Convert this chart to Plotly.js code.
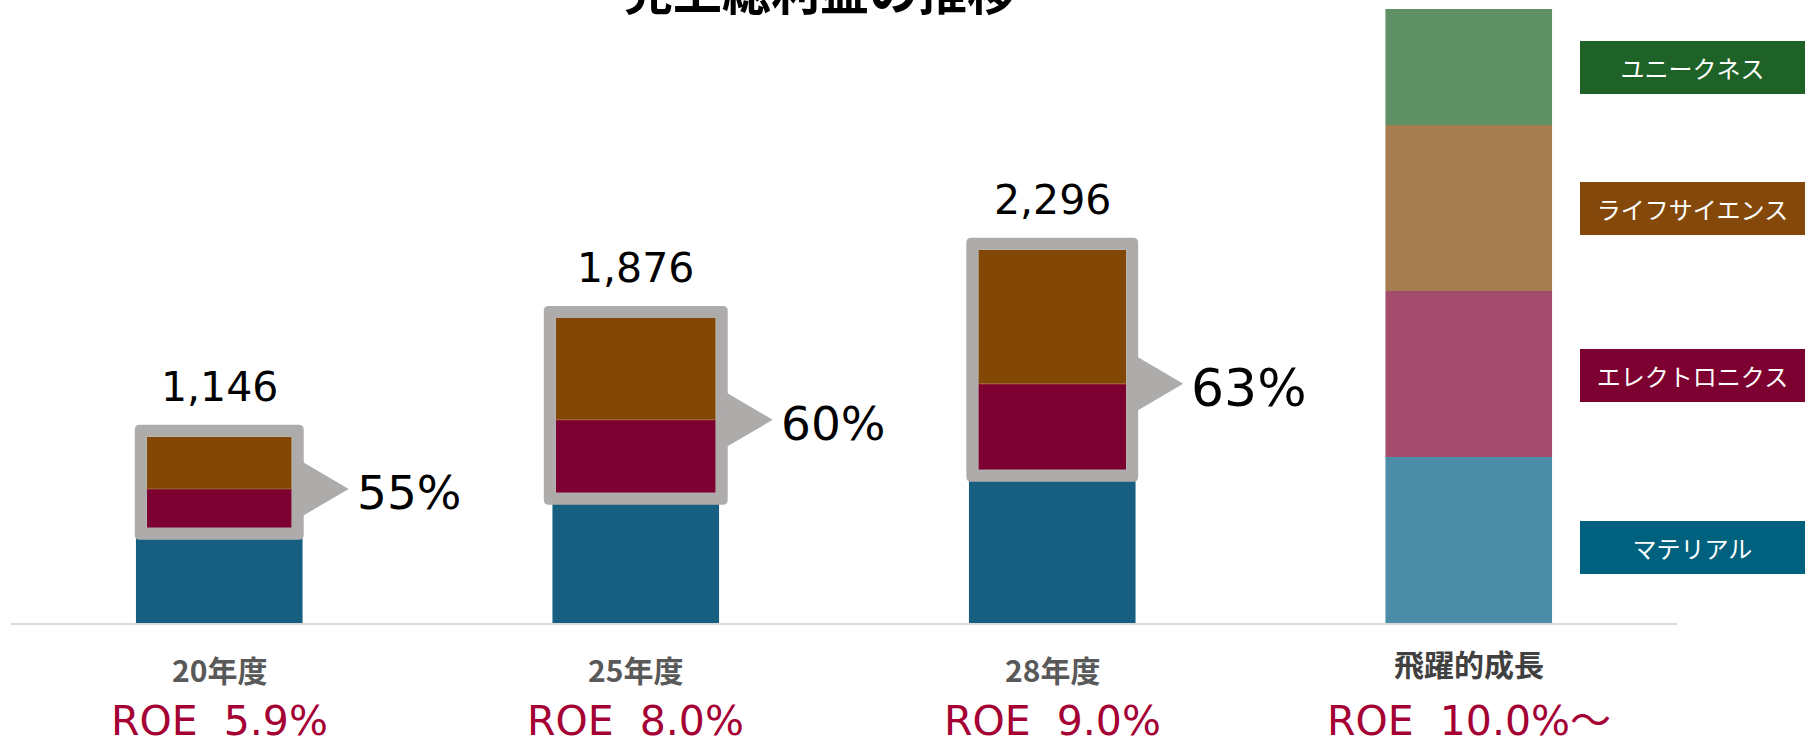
<!DOCTYPE html>
<html>
<head>
<meta charset="utf-8">
<script src="https://cdn.plot.ly/plotly-3.0.1.min.js"></script>
<style>html,body{margin:0;padding:0;background:#fff;}#chart{width:1805px;height:740px;}</style>
</head>
<body>
<div id="chart"></div>
<script>
// ---- data ----
const categories = ['20年度', '25年度', '28年度', '飛躍的成長'];
const roeLabels = ['ROE\u00a0\u00a05.9%', 'ROE\u00a0\u00a08.0%', 'ROE\u00a0\u00a09.0%', 'ROE\u00a0\u00a010.0%～'];
const seriesNames = ['マテリアル', 'エレクトロニクス', 'ライフサイエンス', 'ユニークネス'];
const material = [586, 801, 942, 1021];
const electronics = [239, 449, 529, 1021];
const lifeScience = [321, 626, 825, 1021];
const uniqueness = [0, 0, 0, 714];
const shareLabels = ['55%', '60%', '63%'];
const chartTitle = '売上総利益の推移';

// ---- style ----
const W = 1805, H = 740;
const M = {l: 11, r: 128, t: 9, b: 117};
const colMaterial = ['#175F80', '#175F80', '#175F80', '#4B8DA6'];
const colElec = ['#7C0030', '#7C0030', '#7C0030', '#A34C6B'];
const colLife = ['#834806', '#834806', '#834806', '#A67D4F'];
const colUniq = ['#5F9066', '#5F9066', '#5F9066', '#5F9066'];
const legendColors = ['#00617F', '#7C0030', '#84490A', '#1E6227'];
const legendPixelY = [547, 375, 208, 67];
const outerWidth = 0.4;
const innerWidths = [0.348, 0.384, 0.355, 0.4];
const shareFont = [47, 47, 52];
const FONT = '"Noto Sans CJK JP", "Noto Sans", sans-serif';
const NUMFONT = '"DejaVu Sans", "Noto Sans CJK JP", sans-serif';

const plotW = W - M.l - M.r, plotH = H - M.t - M.b;
const xs = categories.map((c, i) => i);
const totals = xs.map(i => material[i] + electronics[i] + lifeScience[i] + uniqueness[i]);
const yMax = Math.max(...totals);
const pxX = plotW / 4;          // pixels per x unit
const pxY = plotH / yMax;       // pixels per y unit
const baseElec = material.slice();
const baseLife = xs.map(i => material[i] + electronics[i]);
const baseUniq = xs.map(i => material[i] + electronics[i] + lifeScience[i]);

const traces = [
  {type: 'bar', name: seriesNames[0], x: xs, y: material, base: xs.map(() => 0), width: outerWidth,
   marker: {color: colMaterial, line: {width: 0}}, hoverinfo: 'skip'},
  {type: 'bar', name: seriesNames[1], x: xs, y: electronics, base: baseElec, width: innerWidths,
   marker: {color: colElec, line: {width: 0}}, hoverinfo: 'skip'},
  {type: 'bar', name: seriesNames[2], x: xs, y: lifeScience, base: baseLife, width: innerWidths,
   marker: {color: colLife, line: {width: 0}}, hoverinfo: 'skip'},
  {type: 'bar', name: seriesNames[3], x: xs, y: uniqueness, base: baseUniq, width: outerWidth,
   marker: {color: colUniq, line: {width: 0}}, hoverinfo: 'skip'}
];

const shapes = [];
const annotations = [];
const padX = 12 / pxX, padY = 12 / pxY, rX = 5 / pxX, rY = 5 / pxY;
const triW = 45 / pxX, triH = 27 / pxY;

shareLabels.forEach((lab, i) => {
  const iw = innerWidths[i] / 2;
  const ix0 = i - iw, ix1 = i + iw, iy0 = material[i], iy1 = baseUniq[i];
  const x0 = ix0 - padX, x1 = ix1 + padX, y0 = iy0 - padY, y1 = iy1 + padY;
  const p = `M${x0 + rX},${y0} L${x1 - rX},${y0} Q${x1},${y0} ${x1},${y0 + rY} L${x1},${y1 - rY} Q${x1},${y1} ${x1 - rX},${y1} L${x0 + rX},${y1} Q${x0},${y1} ${x0},${y1 - rY} L${x0},${y0 + rY} Q${x0},${y0} ${x0 + rX},${y0} Z ` +
            `M${ix0},${iy0} L${ix0},${iy1} L${ix1},${iy1} L${ix1},${iy0} Z`;
  shapes.push({type: 'path', xref: 'x', yref: 'y', path: p, fillcolor: '#AEABAB', line: {width: 0}, layer: 'above'});
  // faint seam between the two inner segments
  shapes.push({type: 'line', xref: 'x', yref: 'y', x0: ix0, x1: ix1, y0: baseLife[i], y1: baseLife[i],
    line: {color: '#A2623A', width: 1}, layer: 'above'});
  const yb = baseLife[i];
  const tp = `M${x1 - 1 / pxX},${yb - triH} L${x1 + triW},${yb} L${x1 - 1 / pxX},${yb + triH} Z`;
  shapes.push({type: 'path', xref: 'x', yref: 'y', path: tp, fillcolor: '#AEABAB', line: {width: 0}, layer: 'above'});
  annotations.push({x: x1 + triW, y: yb, xref: 'x', yref: 'y', xanchor: 'left', yanchor: 'middle', xshift: 6, yshift: -4,
    text: lab, showarrow: false, font: {family: NUMFONT, size: shareFont[i], color: '#000'}});
  annotations.push({x: i, y: totals[i], xref: 'x', yref: 'y', xanchor: 'center', yanchor: 'middle', yshift: 50,
    text: totals[i].toLocaleString('en-US'), showarrow: false, font: {family: NUMFONT, size: 41, color: '#000'}});
});

categories.forEach((c, i) => {
  annotations.push({x: i, y: 0, xref: 'x', yref: 'paper', xanchor: 'center', yanchor: 'middle',
    yshift: i === 3 ? -40 : -46, text: '<b>' + c + '</b>', showarrow: false,
    font: {family: FONT, size: 30, color: i === 3 ? '#404040' : '#595959'}});
  annotations.push({x: i, y: 0, xref: 'x', yref: 'paper', xanchor: 'center', yanchor: 'middle',
    yshift: -98, text: roeLabels[i], showarrow: false,
    font: {family: NUMFONT, size: 41, color: '#A50034'}});
});

seriesNames.forEach((n, i) => {
  annotations.push({x: (1580 - M.l) / plotW, y: (H - M.b - legendPixelY[i]) / plotH, xref: 'paper', yref: 'paper',
    xanchor: 'left', yanchor: 'middle', width: 225, height: 53, borderpad: 0, borderwidth: 0,
    bgcolor: legendColors[i], align: 'center', valign: 'middle', text: n, showarrow: false,
    font: {family: FONT, size: 24, color: '#fff'}});
});

annotations.push({x: (820 - M.l) / plotW, y: 1, xref: 'paper', yref: 'paper', xanchor: 'center', yanchor: 'bottom',
  yshift: -17, text: '<b>' + chartTitle + '</b>', showarrow: false,
  font: {family: FONT, size: 49, color: '#000'}});

const layout = {
  width: W, height: H, margin: M, showlegend: false, barmode: 'overlay',
  paper_bgcolor: '#fff', plot_bgcolor: '#fff',
  xaxis: {range: [-0.5, 3.5], showgrid: false, zeroline: false, showticklabels: false, ticks: '',
          showline: true, linecolor: '#D9D9D9', linewidth: 2, fixedrange: true},
  yaxis: {range: [0, yMax], visible: false, fixedrange: true},
  shapes: shapes, annotations: annotations
};

Plotly.newPlot('chart', traces, layout, {displayModeBar: false, staticPlot: true});
</script>
</body>
</html>
